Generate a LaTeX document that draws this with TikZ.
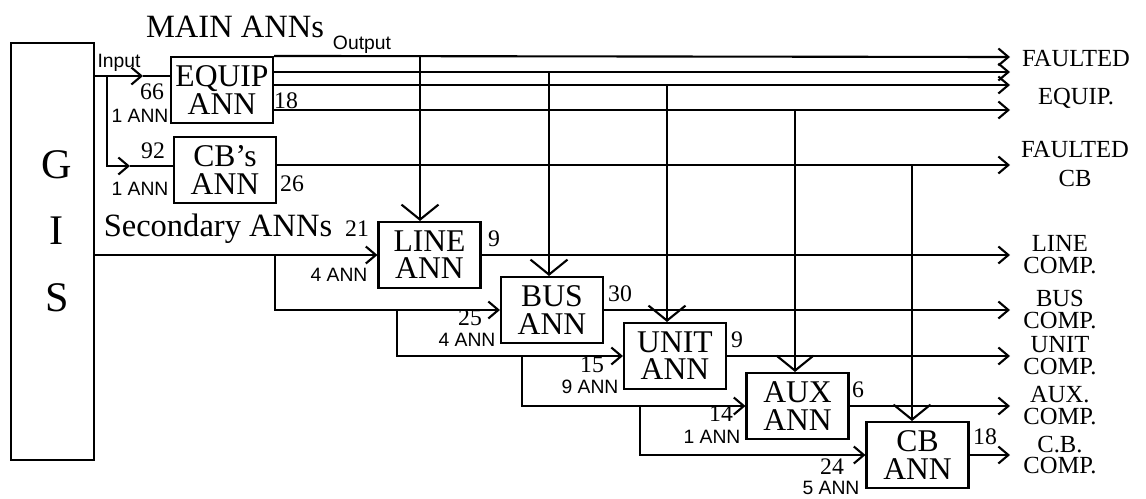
\documentclass[tikz,border=0pt]{standalone}
\usepackage{fontspec}
\setmainfont{Liberation Serif}
\newfontfamily\labelsans{Liberation Sans}
\usetikzlibrary{arrows.meta,calc,positioning}

\tikzset{
  wire/.style={line width=1.2pt},
  arr/.style={wire,-{Straight Barb[length=0.2cm,width=0.34cm]}},
  droparr/.style={wire,-{Straight Barb[length=0.3cm,width=0.74cm]}},
  annbox/.style={draw,line width=1.2pt,minimum width=2.04cm,minimum height=1.32cm,
    inner sep=0pt,align=center,font=\fontsize{18}{15.5}\selectfont},
  gisbox/.style={draw,line width=1.2pt,minimum width=1.66cm,minimum height=8.34cm,inner sep=0pt},
  gisfont/.style={inner sep=0pt,font=\fontsize{24}{24}\selectfont},
  heading/.style={inner sep=0pt,font=\fontsize{18.5}{18.5}\selectfont},
  num/.style={inner sep=0pt,font=\fontsize{13.5}{13.5}\selectfont},
  annct/.style={inner sep=0pt,font=\labelsans\fontsize{11}{11}\selectfont},
  outlbl/.style={inner sep=0pt,align=center,font=\fontsize{14}{12.5}\selectfont},
}

\begin{document}
\begin{tikzpicture}[x=0.02cm,y=-0.02cm]
\useasboundingbox (0,0) rectangle (1146,498);

\node[gisbox] (gis) at (52.5,251.5) {};
\node[gisfont] (gisG) at (57,165) {G};
\node[gisfont] (gisI) at (57,231) {I};
\node[gisfont] (gisS) at (57,298) {S};

\node[heading] (mainT) at (235,27) {MAIN ANNs};
\node[heading,anchor=base] (secT) at (218,236) {Secondary ANNs};
\node[annct,anchor=base] (inT) at (119,67) {Input};
\node[annct,anchor=base] (outT) at (362,49) {Output};

% main ANNs
\node[annbox] (equip) at (222,90) {EQUIP\\ANN};
\node[annbox] (cbs) at (225,170) {CB's\\ANN};
% secondary ANNs
\node[annbox] (line) at (429.5,255) {LINE\\ANN};
\node[annbox] (bus) at (552,310) {BUS\\ANN};
\node[annbox] (unit) at (675,356) {UNIT\\ANN};
\node[annbox] (aux) at (797.5,406) {AUX\\ANN};
\node[annbox] (cb) at (917.5,455) {CB\\ANN};

% inputs of the main ANNs
\coordinate (ik) at (107,76);
\coordinate (ia) at (143,76);
\coordinate (ib) at (130,166);
\draw[arr] (gis.east |- ia) -- (ia);
\draw[wire] (ia) -- (ia -| equip.west);
\draw[arr] (ik) |- (ib);
\draw[wire] (ib) -- (ib -| cbs.west);

% outputs of the main ANNs
\foreach \n/\y in {1/57,2/72,3/85,4/110,5/165}
  \coordinate (f\n) at (1010,\y);
\draw[arr] (equip.north east) -- (f1);
\foreach \n in {2,3,4}
  \draw[arr] (equip.east |- f\n) -- (f\n);
\draw[arr] (cbs.east |- f5) -- (f5);

% feeds down to the secondary ANNs
\foreach \n/\x in {1/420,2/549,3/667,4/795,5/912}
  \coordinate (x\n) at (\x,0);
\draw[droparr] (x1 |- f1) -- (x1 |- line.north);
\draw[droparr] (x2 |- f2) -- (x2 |- bus.north);
\draw[droparr] (x3 |- f3) -- (x3 |- unit.north);
\draw[droparr] (x4 |- f4) -- (x4 |- aux.north);
\draw[droparr] (x5 |- f5) -- (x5 |- cb.north);

% inputs of the secondary ANNs
\draw[arr] (gis.east |- line.west) -- (line.west);
\coordinate (s1) at (275,255);
\coordinate (s2) at (397,310);
\coordinate (s3) at (522,356);
\coordinate (s4) at (640,406);
\draw[arr] (s1) |- (bus.west);
\draw[arr] (s2) |- (unit.west);
\draw[arr] (s3) |- (aux.west);
\draw[arr] (s4) |- (cb.west);

% outputs of the secondary ANNs
\foreach \b in {line,bus,unit,aux,cb}{
  \coordinate (o\b) at (\b.east -| f1);
  \draw[arr] (\b.east) -- (o\b);
}

\node[outlbl] (lblEq) at (1076,79) {FAULTED\\[9pt]EQUIP.};
\node[outlbl] (lblCbs) at (1075,164) {FAULTED\\[4pt]CB};
\node[outlbl,right=0.26cm of oline] (lblLine) {LINE\\COMP.};
\node[outlbl,right=0.26cm of obus] (lblBus) {BUS\\COMP.};
\node[outlbl,right=0.26cm of ounit] (lblUnit) {UNIT\\COMP.};
\node[outlbl,right=0.26cm of oaux] (lblAux) {AUX.\\COMP.};
\node[outlbl,right=0.26cm of ocb] (lblCb) {C.B.\\COMP.};

% sizes
\node[num] (n66) at (152,92) {66};
\node[annct] (k1) at (140,116) {1 ANN};
\node[num] (n18a) at (286,101) {18};
\node[num] (n92) at (153,151) {92};
\node[annct] (k2) at (140,189) {1 ANN};
\node[num] (n26) at (292,184) {26};
\node[num] (n21) at (357,229) {21};
\node[annct] (k3) at (339,275) {4 ANN};
\node[num] (n9a) at (494,239) {9};
\node[num] (n25) at (470,318) {25};
\node[annct] (k4) at (467,340) {4 ANN};
\node[num] (n30) at (620,294) {30};
\node[num] (n15) at (592,365) {15};
\node[annct] (k5) at (590,387) {9 ANN};
\node[num] (n9b) at (737,340) {9};
\node[num] (n14) at (721,414) {14};
\node[annct] (k6) at (712,437) {1 ANN};
\node[num] (n6) at (858,390) {6};
\node[num] (n24) at (832,467) {24};
\node[annct] (k7) at (831,488) {5 ANN};
\node[num] (n18b) at (985,437) {18};

\end{tikzpicture}
\end{document}
